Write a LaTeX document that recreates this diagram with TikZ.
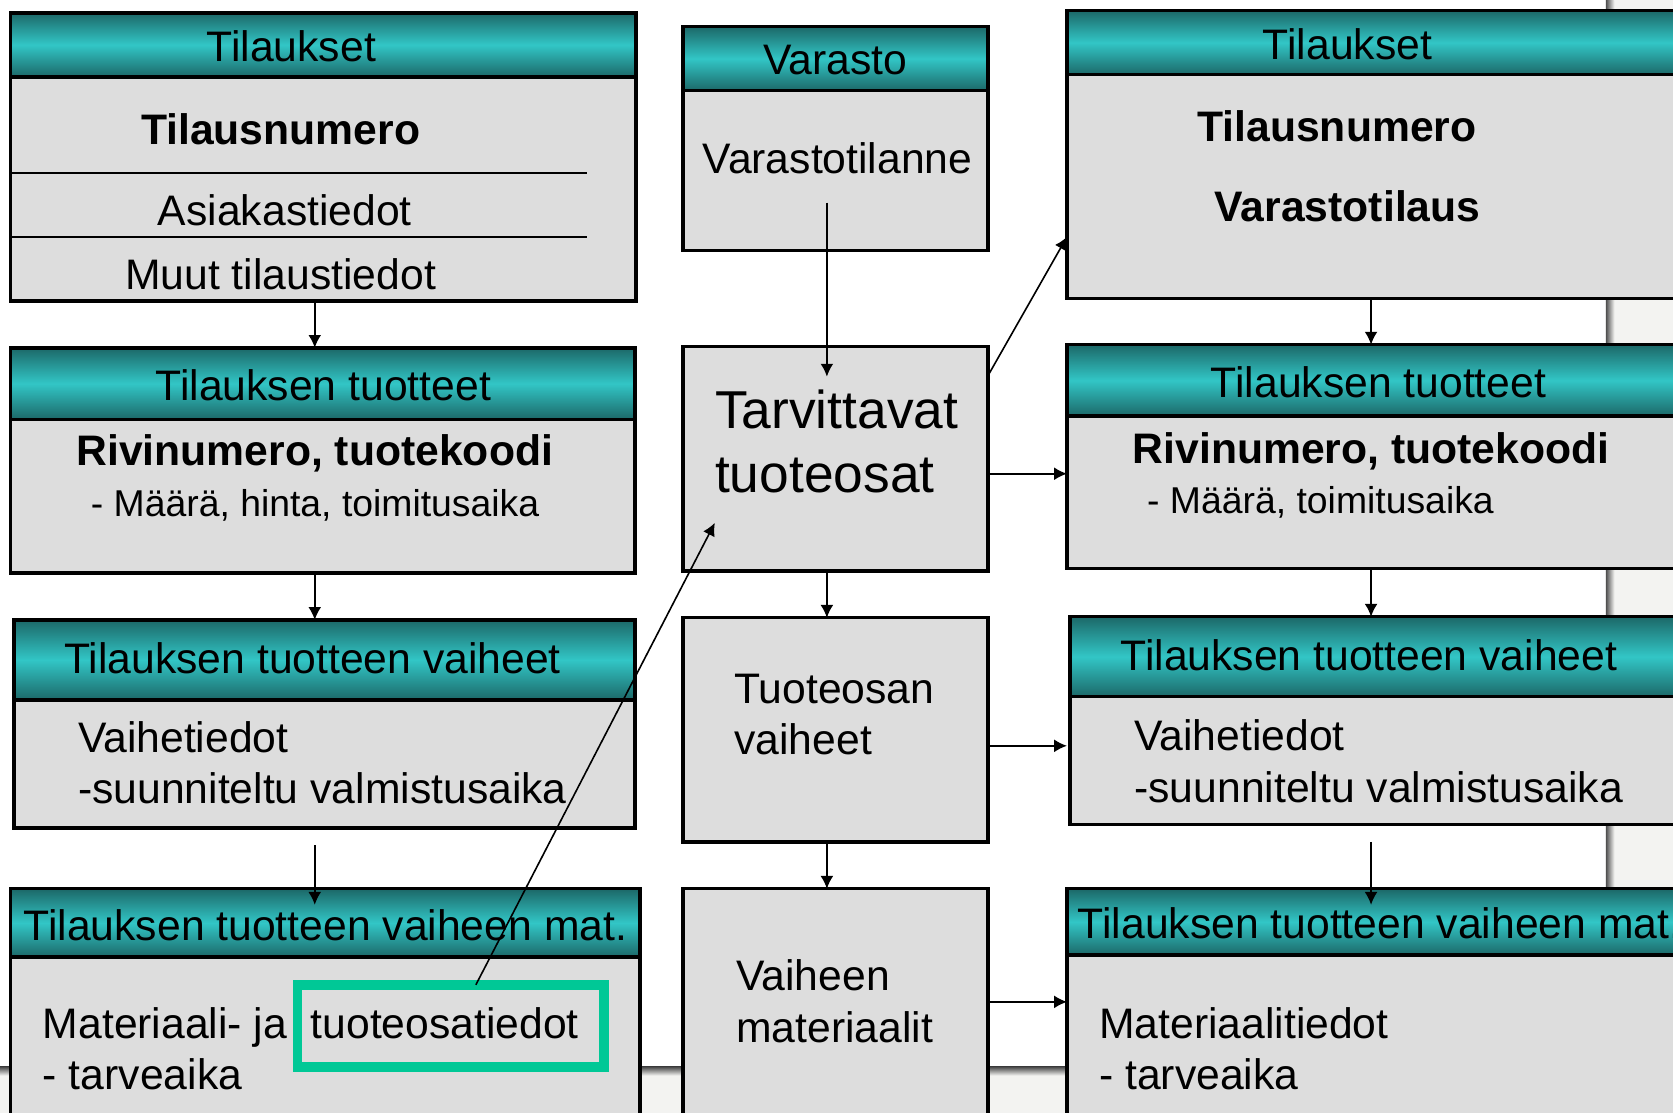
\documentclass[tikz,border=0pt]{standalone}
\usepackage{fontspec}
\setmainfont{Liberation Sans}
\usetikzlibrary{arrows.meta}
\definecolor{boxgrey}{RGB}{221,221,221}
\definecolor{headdark}{RGB}{28,104,104}
\definecolor{headlight}{RGB}{50,198,198}
\definecolor{markgreen}{RGB}{0,200,150}
\definecolor{paper}{RGB}{243,243,241}
\tikzstyle{body}=[draw,line width=3.2pt,fill=boxgrey,anchor=north west,inner sep=0pt,outer sep=0pt]
\tikzstyle{head}=[draw,line width=3.2pt,anchor=north west,inner sep=0pt,outer sep=0pt,top color=headdark,bottom color=headdark,middle color=headlight]
\tikzstyle{line}=[draw,line width=1.5pt,-{Latex[length=12pt,width=12pt]}]
\tikzstyle{sep}=[draw,line width=1.5pt]
\tikzstyle{txt}=[inner sep=0pt,anchor=base,font=\fontsize{40}{48}\selectfont]
\tikzstyle{txtl}=[txt,anchor=base west]
\tikzstyle{boldtxt}=[txt,font=\fontsize{40}{48}\selectfont\bfseries]
\tikzstyle{smalltxt}=[txtl,font=\fontsize{35}{42}\selectfont]
\tikzstyle{largetxt}=[txtl,font=\fontsize{50}{60}\selectfont]
\begin{document}
\begin{tikzpicture}[x=1pt,y=-1pt]
  \useasboundingbox (0,0) rectangle (1568,1043);
  \clip (0,0) rectangle (1568,1043);
  % background
  \fill[paper] (0,0) rectangle (1568,1043);
  \fill[white] (0,0) rectangle (1506,1000);
  \shade[left color=black!70,right color=paper] (1505,0) rectangle (1513,1043);
  \shade[top color=black!70,bottom color=paper] (0,1000) rectangle (1506,1008);

  % left column
  \node[body,minimum width=586,minimum height=270] (tilA) at (10,12) {};
  \node[head,minimum width=586,minimum height=60] (tilAh) at (10,12) {};
  \draw[sep] (10,162) -- (550,162);
  \draw[sep] (10,222) -- (550,222);
  \node[txt] (tilAt) at (273,58) {Tilaukset};
  \node[boldtxt] (tilAk) at (263,135) {Tilausnumero};
  \node[txt] (tilAa) at (267,211) {Asiakastiedot};
  \node[txt] (tilAm) at (263,271) {Muut tilaustiedot};

  \node[body,minimum width=585,minimum height=211] (tilB) at (10,326) {};
  \node[head,minimum width=585,minimum height=67] (tilBh) at (10,326) {};
  \node[txt] (tilBt) at (303,375) {Tilauksen tuotteet};
  \node[boldtxt] (tilBk) at (295,436) {Rivinumero, tuotekoodi};
  \node[smalltxt] (tilBd) at (85,484) {- Määrä, hinta, toimitusaika};

  \node[body,minimum width=582,minimum height=195] (tilC) at (13,581) {};
  \node[head,minimum width=582,minimum height=75] (tilCh) at (13,581) {};
  \node[txt] (tilCt) at (293,631) {Tilauksen tuotteen vaiheet};
  \node[txtl] (tilCa) at (73,705) {Vaihetiedot};
  \node[txtl] (tilCb) at (73,753) {-suunniteltu valmistusaika};

  \node[body,minimum width=590,minimum height=230] (tilD) at (10,833) {};
  \node[head,minimum width=590,minimum height=64] (tilDh) at (10,833) {};
  \node[txt] (tilDt) at (305,881) {Tilauksen tuotteen vaiheen mat.};
  \node[txtl] (tilDa) at (40,973) {Materiaali- ja};
  \node[txtl] (tilDb) at (291,973) {tuoteosatiedot};
  \node[txtl] (tilDc) at (40,1021) {- tarveaika};
  \node[draw=markgreen,line width=9pt,minimum width=287,minimum height=77,inner sep=0pt,outer sep=0pt] (mark) at (422.5,961.5) {};

  % middle column
  \node[body,minimum width=286,minimum height=210] (var) at (640,25) {};
  \node[head,minimum width=286,minimum height=60] (varh) at (640,25) {};
  \node[txt] (vart) at (783,70) {Varasto};
  \node[txt] (varv) at (785,163) {Varastotilanne};

  \node[body,minimum width=286,minimum height=210] (tarv) at (640,325) {};
  \node[largetxt] (tarva) at (670,402) {Tarvittavat};
  \node[largetxt] (tarvb) at (670,462) {tuoteosat};

  \node[body,minimum width=286,minimum height=210] (tvai) at (640,579) {};
  \node[txtl] (tvaia) at (688,659) {Tuoteosan};
  \node[txtl] (tvaib) at (688,707) {vaiheet};

  \node[body,minimum width=286,minimum height=230] (vmat) at (640,833) {};
  \node[txtl] (vmata) at (690,928) {Vaiheen};
  \node[txtl] (vmatb) at (690,977) {materiaalit};

  % right column
  \node[body,minimum width=600,minimum height=270] (rtilA) at (1000,10) {};
  \node[head,minimum width=600,minimum height=60] (rtilAh) at (1000,10) {};
  \node[txt] (rtilAt) at (1263,56) {Tilaukset};
  \node[boldtxt] (rtilAk) at (1253,133) {Tilausnumero};
  \node[boldtxt] (rtilAv) at (1263,208) {Varastotilaus};

  \node[body,minimum width=600,minimum height=210] (rtilB) at (1000,323) {};
  \node[head,minimum width=600,minimum height=67] (rtilBh) at (1000,323) {};
  \node[txt] (rtilBt) at (1292,373) {Tilauksen tuotteet};
  \node[boldtxt] (rtilBk) at (1285,434) {Rivinumero, tuotekoodi};
  \node[smalltxt] (rtilBd) at (1075,481) {- Määrä, toimitusaika};

  \node[body,minimum width=600,minimum height=195] (rtilC) at (1003,578) {};
  \node[head,minimum width=600,minimum height=75] (rtilCh) at (1003,578) {};
  \node[txt] (rtilCt) at (1283,628) {Tilauksen tuotteen vaiheet};
  \node[txtl] (rtilCa) at (1063,703) {Vaihetiedot};
  \node[txtl] (rtilCb) at (1063,752) {-suunniteltu valmistusaika};

  \node[body,minimum width=600,minimum height=230] (rtilD) at (1000,833) {};
  \node[head,minimum width=600,minimum height=62] (rtilDh) at (1000,833) {};
  \node[txtl] (rtilDt) at (1010,880) {Tilauksen tuotteen vaiheen mat.};
  \node[txtl] (rtilDa) at (1030,973) {Materiaalitiedot};
  \node[txtl] (rtilDc) at (1030,1021) {- tarveaika};

  % arrows
  \path[line] ([xshift=-8]tilA.south) -- ([xshift=-8]tilA.south |- tilB.north);
  \path[line] ([xshift=-7.5]tilB.south) -- ([xshift=-7.5]tilB.south |- tilC.north);
  \path[line] ([shift={(-9,16)}]tilC.south) -- ([shift={(-9,15)}]tilC.south |- tilD.north);
  \path[line] ([shift={(-8,165)}]var.north) -- ([shift={(-8,28)}]tarv.north);
  \path[line] ([xshift=-8]tarv.south) -- ([xshift=-8]tarv.south |- tvai.north);
  \path[line] ([xshift=-8]tvai.south) -- ([xshift=-8]tvai.south |- vmat.north);
  \path[line] ([xshift=285]rtilA.south west) -- ([xshift=285]rtilB.north west);
  \path[line] ([xshift=285]rtilB.south west) -- ([xshift=282]rtilC.north west);
  \path[line] ([shift={(282,16)}]rtilC.south west) -- ([shift={(285,15)}]rtilD.north west);
  \path[line] ([yshift=-27]tarv.north east) -- ([yshift=-212]rtilA.north west);
  \path[line] ([yshift=-14]tarv.east) -- ([yshift=-14]tarv.east -| rtilB.west);
  \path[line] ([yshift=-15]tvai.east) -- ([yshift=-15]tvai.east -| rtilA.west);
  \path[line] ([yshift=9]vmat.east) -- ([yshift=9]vmat.east -| rtilD.west);
  \path[line] ([xshift=23.5]mark.north) -- ([shift={(30,165)}]tarv.north west);
\end{tikzpicture}
\end{document}
